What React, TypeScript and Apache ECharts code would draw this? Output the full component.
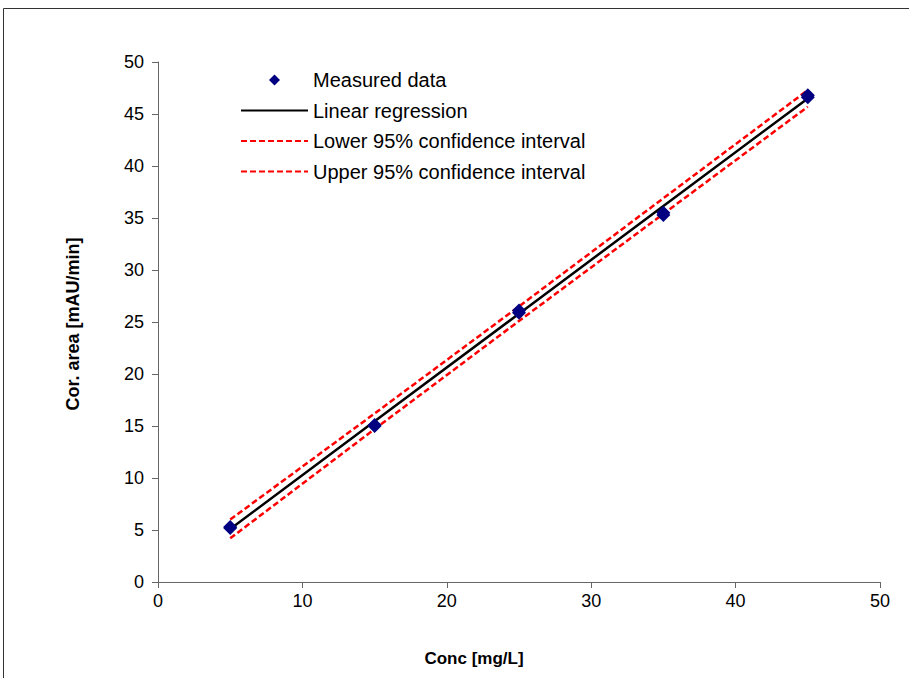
import React, { useEffect, useRef } from "react";
import * as echarts from "echarts";

const measuredX = [5, 5, 15, 15, 25, 25, 35, 35, 45, 45];
const measuredY = [5.2, 5.3, 15.1, 15.0, 26.1, 25.9, 35.5, 35.3, 46.8, 46.6];
const fitX = [5, 15, 25, 35, 45];
const fitY = [5.1, 15.45, 25.8, 36.15, 46.5];
const lowerY = [4.2, 14.7, 25.1, 35.4, 45.7];
const upperY = [6.0, 16.2, 26.5, 36.9, 47.3];

const seriesNames = [
  "Measured data",
  "Linear regression",
  "Lower 95% confidence interval",
  "Upper 95% confidence interval",
];
const xTitle = "Conc [mg/L]";
const yTitle = "Cor. area [mAU/min]";

const pairs = (xs: number[], ys: number[]) => xs.map((x, i) => [x, ys[i]]);

export default function App() {
  const ref = useRef<HTMLDivElement>(null);
  useEffect(() => {
    if (!ref.current) return;
    const chart = echarts.init(ref.current, null, { renderer: "svg" });
    const font = "'Liberation Sans', Arial, sans-serif";
    const axisCol = "#666666";
    chart.setOption({
      animation: false,
      backgroundColor: "#ffffff",
      textStyle: { fontFamily: font },
      graphic: [
        {
          type: "rect",
          shape: { x: 3.5, y: 8.5, width: 1200, height: 1200 },
          style: { fill: "none", stroke: "#333333", lineWidth: 1 },
          silent: true,
        },
        {
          type: "text",
          x: 474,
          y: 658,
          style: {
            text: xTitle,
            font: `bold 17px ${font}`,
            fill: "#000",
            align: "center",
            verticalAlign: "middle",
          },
        },
        {
          type: "text",
          x: 73,
          y: 324,
          rotation: Math.PI / 2,
          style: {
            text: yTitle,
            font: `bold 18px ${font}`,
            fill: "#000",
            align: "center",
            verticalAlign: "middle",
          },
        },
      ],
      grid: { left: 158, right: 29, top: 62, bottom: 96, containLabel: false },
      legend: {
        orient: "vertical",
        left: 235,
        top: 65,
        itemWidth: 67,
        itemHeight: 11,
        itemGap: 10.5,
        symbolKeepAspect: true,
        textStyle: {
          fontSize: 20,
          color: "#000",
          fontFamily: font,
          padding: [0, 0, 0, 0],
        },
        data: [
          {
            name: seriesNames[0],
            icon: "path://M0,-1L1,0L0,1L-1,0Z",
            itemStyle: { color: "#000080", opacity: 1 },
          },
          { name: seriesNames[1], itemStyle: { opacity: 0 } },
          { name: seriesNames[2], itemStyle: { opacity: 0 } },
          { name: seriesNames[3], itemStyle: { opacity: 0 } },
        ],
      },
      xAxis: {
        type: "value",
        min: 0,
        max: 50,
        interval: 10,
        axisLine: { show: true, onZero: false, lineStyle: { color: axisCol, width: 1 } },
        axisTick: { show: true, length: 6, lineStyle: { color: axisCol } },
        axisLabel: { fontSize: 18, color: "#000", margin: 10, fontFamily: font },
        splitLine: { show: false },
      },
      yAxis: {
        type: "value",
        min: 0,
        max: 50,
        interval: 5,
        axisLine: { show: true, onZero: false, lineStyle: { color: axisCol, width: 1 } },
        axisTick: { show: true, length: 6, lineStyle: { color: axisCol } },
        axisLabel: { fontSize: 18, color: "#000", margin: 14, fontFamily: font },
        splitLine: { show: false },
      },
      series: [
        {
          name: seriesNames[1],
          type: "line",
          data: pairs(fitX, fitY),
          symbol: "none",
          lineStyle: { color: "#000000", width: 2.5 },
          itemStyle: { color: "#000000" },
          z: 2,
        },
        {
          name: seriesNames[2],
          type: "line",
          data: pairs(fitX, lowerY),
          symbol: "none",
          lineStyle: { color: "#ff0000", width: 2.5, type: [6, 3] },
          itemStyle: { color: "#ff0000" },
          z: 2,
        },
        {
          name: seriesNames[3],
          type: "line",
          data: pairs(fitX, upperY),
          symbol: "none",
          lineStyle: { color: "#ff0000", width: 2.5, type: [6, 3] },
          itemStyle: { color: "#ff0000" },
          z: 2,
        },
        {
          name: seriesNames[0],
          type: "scatter",
          data: pairs(measuredX, measuredY),
          symbol: "diamond",
          symbolSize: 14,
          itemStyle: { color: "#000080", opacity: 1 },
          z: 3,
        },
      ],
    });
    return () => chart.dispose();
  }, []);
  return (
    <div
      ref={ref}
      style={{ position: "fixed", left: 0, top: 0, width: 909, height: 678 }}
    />
  );
}
